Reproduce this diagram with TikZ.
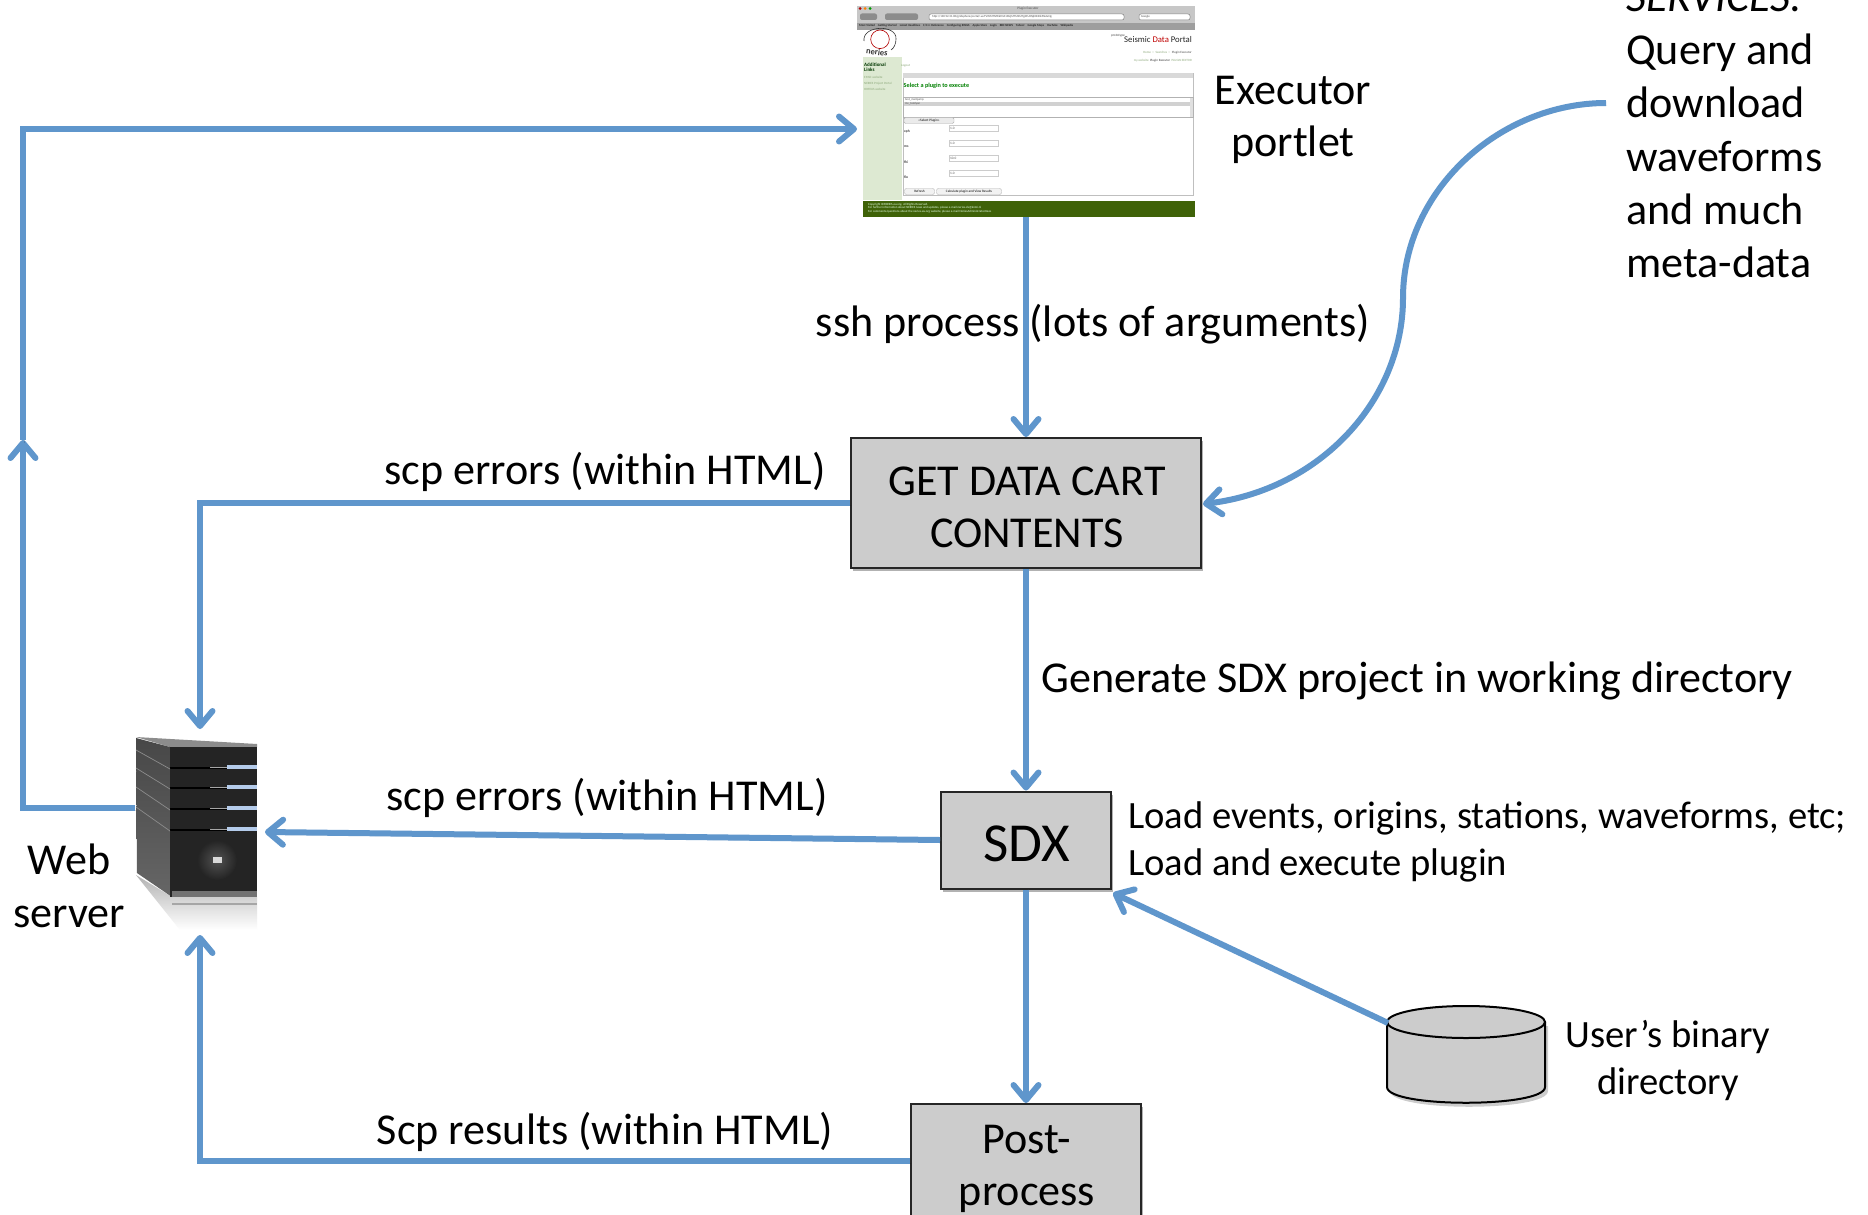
\documentclass[tikz,border=0pt]{standalone}
\usepackage{fontspec}
\setmainfont{Carlito}
\usetikzlibrary{arrows.meta,shadows,calc}
\definecolor{flowblue}{HTML}{5F96CC}
\definecolor{boxgrey}{HTML}{CCCCCC}
\definecolor{sidegreen}{HTML}{DDE9D2}
\definecolor{footgreen}{HTML}{3F6208}
\definecolor{linkgreen}{HTML}{8CA87A}
\definecolor{ledblue}{HTML}{B4CBEA}
\newcommand{\bigtext}{\fontsize{44.1}{52.6}\selectfont}
\newcommand{\smalltext}{\fontsize{38.6}{47}\selectfont}
\newcommand{\tinytext}[1]{\fontsize{#1}{#1}\selectfont}
\tikzset{
  x=1pt,y=-1pt,
  flow/.style={draw=flowblue,line width=6pt,
    preaction={draw=black,opacity=.14,transform canvas={xshift=1pt,yshift=-2.5pt}}},
  tipped/.style={flow,-{Straight Barb[length=15pt,width=25pt,line width=6pt,round]}},
  procbox/.style={draw=black!85,line width=2pt,fill=boxgrey,inner sep=0pt,
    drop shadow={shadow xshift=1.5pt,shadow yshift=-3pt,opacity=.3,fill=black}},
  lbl/.style={inner sep=0pt,align=center,text=black},
  lbll/.style={inner sep=0pt,align=left,anchor=west,text=black},
  tiny/.style={inner sep=0pt,text=black!70},
}
\begin{document}
\begin{tikzpicture}
\useasboundingbox (0,0) rectangle (1868,1215);
\clip (0,0) rectangle (1868,1215);
\fill[white] (0,0) rectangle (1868,1215);

% ---------- browser screenshot (executor portlet)
\node[inner sep=0pt,minimum width=338pt,minimum height=211pt] (portlet) at (1026,111.5) {};
\fill[white] (857,6) rectangle (1195,217);
\fill[black!22] (857,6) rectangle (1195,30);
\fill[black!38] (857,23) rectangle (1195,30);
\fill[red!70!black] (860,8.5) circle (1.5);
\fill[orange] (865,8.5) circle (1.5);
\fill[green!60!black] (870,8.5) circle (1.5);
\node[tiny,font=\tinytext{3.4}] (wintitle) at (1028,9) {Plugin Executor};
\fill[black!45,rounded corners=2pt] (860,13.5) rectangle (877,20);
\fill[black!45,rounded corners=2pt] (885,13.5) rectangle (918,20);
\draw[fill=white,draw=black!50,line width=.5pt,rounded corners=2pt] (929,14) rectangle (1124,20);
\draw[fill=white,draw=black!50,line width=.5pt,rounded corners=2pt] (1139,14) rectangle (1190,20);
\node[tiny,font=\tinytext{3},anchor=west] (urltext) at (932,17) {http://130.92.31.80/gridsphere/portal/.ux.TVWMTNTEkFOA1MzjMTM4MTg3FU0NjE0NDk5NzIxNg};
\node[tiny,font=\tinytext{3},anchor=west] (searchtext) at (1141,17) {Google};
\node[tiny,font=\bfseries\tinytext{3},anchor=west,text=black!85] (bookmarks) at (859,26) {Most Visited\quad Getting Started\quad Latest Headlines\quad C/C++ Reference\quad Configuring RINGS\quad Apple Store\quad Login\quad BBC NEWS\quad Yahoo!\quad Google Maps\quad YouTube\quad Wikipedia};
% logo
\draw[red!70!black,line width=.6pt] (880,39.3) circle (9.3);
\draw[black!80,line width=.6pt] (864,41) .. controls (862,25) and (897,24) .. (896,39) .. controls (896,44) and (894,48) .. (891,50);
\node[tiny,font=\bfseries\tinytext{8.5},text=black!80,rotate=-8] (logoname) at (877,52) {neries};
\node[tiny,font=\tinytext{3.4},anchor=east] (proto) at (1125,36) {prototype};
\node[inner sep=0pt,font=\tinytext{8.7},anchor=east,text=black!85] (sdp) at (1192,40) {Seismic \textcolor{red!75!black}{Data} Portal};
\node[tiny,font=\tinytext{3.2},anchor=east,text=linkgreen] (crumbs) at (1192,53) {Home\ \ ::\ \ Searches\ \ ::\ \ \textcolor{black!70}{Plugin Executor}};
\node[tiny,font=\tinytext{3.2},anchor=east,text=linkgreen] (tabs) at (1192,60.5) {my website\ \ \textcolor{black!80}{Plugin Executor}\ \ PLUGIN EDITOR};
% sidebar
\fill[sidegreen] (863,57) rectangle (902,200);
\node[inner sep=0pt,font=\bfseries\tinytext{5},anchor=north west,align=left,text=black!65!green!60!black] (addlinks) at (864,63) {Additional\\Links};
\node[tiny,font=\tinytext{3.2},anchor=west,text=linkgreen] (l1) at (864,77.5) {EMSC website};
\node[tiny,font=\tinytext{3.2},anchor=west,text=linkgreen] (l2) at (864,83.5) {NERIES Project Portal};
\node[tiny,font=\tinytext{3.2},anchor=west,text=linkgreen] (l3) at (864,89.5) {ORFEUS website};
\node[tiny,font=\tinytext{3.2},anchor=west,text=linkgreen] (logout) at (901,66) {Logout};
% panel
\draw[black!25,fill=white,line width=.6pt] (903,73) rectangle (1193,195);
\fill[black!15] (903,73) rectangle (1193,78);
\node[inner sep=0pt,font=\bfseries\tinytext{6.2},anchor=west,text=green!50!black] (selectp) at (903.5,86) {Select a plugin to execute};
\draw[black!30,line width=.5pt] (903,97.5) rectangle (1193,117.5);
\fill[black!18] (904,102) rectangle (1190,105.5);
\fill[black!12] (1190,98) rectangle (1193,117);
\node[tiny,font=\tinytext{3},anchor=west] (plug1) at (905,100) {test\_mainjump};
\node[tiny,font=\tinytext{3},anchor=west] (plug2) at (905,103.7) {inv\_tomlyan};
\node[draw=black!30,fill=black!8,rounded corners=1.5pt,line width=.4pt,inner sep=0pt,minimum width=50pt,minimum height=6pt,font=\tinytext{3.4}] (selbtn) at (929,120.5) {<<Select Plugin>>};
\foreach \yy/\lab/\val/\ly in {128.5/xph/1.0/132,143.5/ms/1.0/147,158.5/fhi/10.0/162,173.5/flo/1.0/177}{
  \node[draw=black!20,fill=white,line width=.4pt,inner sep=1pt,text width=47pt,align=left,minimum height=6pt,anchor=west,font=\tinytext{3.4},text=black!70] (val\lab) at (949,\yy) {\val};
  \node[inner sep=0pt,font=\bfseries\tinytext{3.6},anchor=west,text=black!75] (par\lab) at (904,\ly) {\lab};
}
\node[draw=black!30,fill=black!5,rounded corners=2pt,line width=.4pt,inner sep=0pt,minimum width=30pt,minimum height=6pt,font=\tinytext{3.4}] (refbtn) at (919.5,191.5) {Refresh};
\node[draw=black!30,fill=black!5,rounded corners=2pt,line width=.4pt,inner sep=0pt,minimum width=65pt,minimum height=6pt,font=\tinytext{3.4}] (calcbtn) at (969,191.5) {Calculate plugin and View Results};
% footer
\fill[footgreen] (863,201) rectangle (1195,217);
\node[inner sep=0pt,font=\tinytext{3.1},anchor=north west,align=left,text=white!90!green] (foot) at (868,203.5) {Copyright IDMIRIES-eu.org. All Rights Reserved.\\For further information about NERIES news and updates, please e-mail neries-ds@knmi.nl\\For comments/questions about the neries-eu.org website, please e-mail NeriesAdministrator.Kees};

% ---------- web server
\node[inner sep=0pt,minimum width=122pt,minimum height=193pt] (server) at (196,833) {};
\shade[top color=black!30,bottom color=white] (136,875) -- (172,897) -- (257,897) -- (257,930) -- (180,930) -- cycle;
\fill[black!35] (172,903) rectangle (257,905);
\fill[black!45] (136,737) -- (257,744) -- (257,747) -- (170,747) -- cycle;
\shade[top color=black!72,bottom color=black!60] (136,738) -- (170,747) -- (172,897) -- (137,873) -- cycle;
\fill[black!86] (170,747) rectangle (257,897);
\shade[inner color=black!68,outer color=black!86] (217,860) circle (20);
\fill[black!55] (172,891) rectangle (257,897);
\foreach \yy/\zz in {767/750,787/768,808/787,829/807}{
  \draw[black,line width=1.2pt] (170,\yy+1) -- (227,\yy+1);
  \draw[black!35,line width=1pt] (210,\yy) -- (227,\yy);
  \fill[ledblue] (227,\yy-2) rectangle (257,\yy+2);
  \draw[black!45,line width=.7pt] (136,\zz) -- (170,\yy+2);
}
\fill[white!85!black] (213,857) rectangle (222,863);

% ---------- boxes
\node[procbox,minimum width=350pt,minimum height=130pt] (cart) at (1026,503) {};
\node[procbox,minimum width=170pt,minimum height=97pt] (sdx) at (1026,840) {};
\node[procbox,minimum width=230pt,minimum height=130pt] (post) at (1026,1169) {};
\node[lbl,font=\bigtext] (carttxt) at (1027,507.5) {GET DATA CART\\CONTENTS};
\node[lbl,font=\fontsize{55}{60}\selectfont] (sdxtxt) at (1027,844) {SDX};
\node[lbl,font=\bigtext] (posttxt) at (1027,1169) {Post-\\process};

% ---------- cylinder
\coordinate (disk) at (1388,1023);
\fill[black,opacity=.2] (1390,1026) -- (1390,1091) .. controls (1390,1112) and (1548,1112) .. (1548,1091) -- (1548,1026) -- cycle;
\draw[fill=boxgrey,draw=black,line width=2pt] (1387,1022) -- (1387,1087) .. controls (1387,1108) and (1545,1108) .. (1545,1087) -- (1545,1022);
\draw[fill=boxgrey,draw=black,line width=2pt] (1466,1022) ellipse (79 and 16);

% ---------- labels
\node[lbl,font=\bigtext] (execlbl) at (1293,120) {Executor\\portlet};
\node[lbl,font=\bigtext] (sshlbl) at (1093,324) {ssh process (lots of arguments)};
\node[lbl,font=\bigtext] (scp1) at (605,472) {scp errors (within HTML)};
\node[lbll,font=\bigtext] (genlbl) at (1041,681) {Generate SDX project in working directory};
\node[lbl,font=\bigtext] (scp2) at (607,798) {scp errors (within HTML)};
\node[lbl,font=\bigtext] (scp3) at (605,1132) {Scp results (within HTML)};
\node[lbl,font=\bigtext] (weblbl) at (69,886) {Web\\server};
\node[lbll,font=\smalltext] (loadlbl) at (1128,842) {Load events, origins, stations, waveforms, etc;\\Load and execute plugin};
\node[lbl,font=\smalltext] (userlbl) at (1668,1060) {User’s binary\\directory};
\node[inner sep=0pt,align=left,anchor=north west,font=\fontsize{44.1}{53.3}\selectfont] (svc) at (1626,-17.7) {\textit{SERVICES:}\\Query and\\download\\waveforms\\and much\\meta-data};

% ---------- connectors
\coordinate (upmid) at (23,440);
\coordinate (srvtop) at (200,729);
\coordinate (srvright) at (265,832);
\coordinate (srvbot) at (200,935);
\coordinate (portin) at (857,129);
\coordinate (portdown) at (1026,217);
\coordinate (svcout) at (1606,103);
\coordinate (cartright) at (1203,504);
\coordinate (sdxcorner) at (1113,893);
\coordinate (postout) at ([yshift=8pt]post.west);
\draw[tipped] (server.west |- 0,808) -- (upmid |- 0,808) -- (upmid);
\draw[tipped] (upmid) -- (upmid |- portin) -- (portin);
\draw[tipped] (portdown) -- (cart.north);
\draw[tipped] (cart.west) -- (srvtop |- cart.west) -- (srvtop);
\draw[tipped] (cart.south) -- (sdx.north);
\draw[tipped] (sdx.west) -- (srvright);
\draw[tipped] (sdx.south) -- (post.north);
\draw[tipped] (postout) -- (srvbot |- postout) -- (srvbot);
\draw[tipped] (disk) -- (sdxcorner);
\draw[tipped] (svcout) .. controls (1500,103) and (1403,190) .. (1403,298) .. controls (1403,400) and (1320,490) .. (cartright);
\end{tikzpicture}
\end{document}
